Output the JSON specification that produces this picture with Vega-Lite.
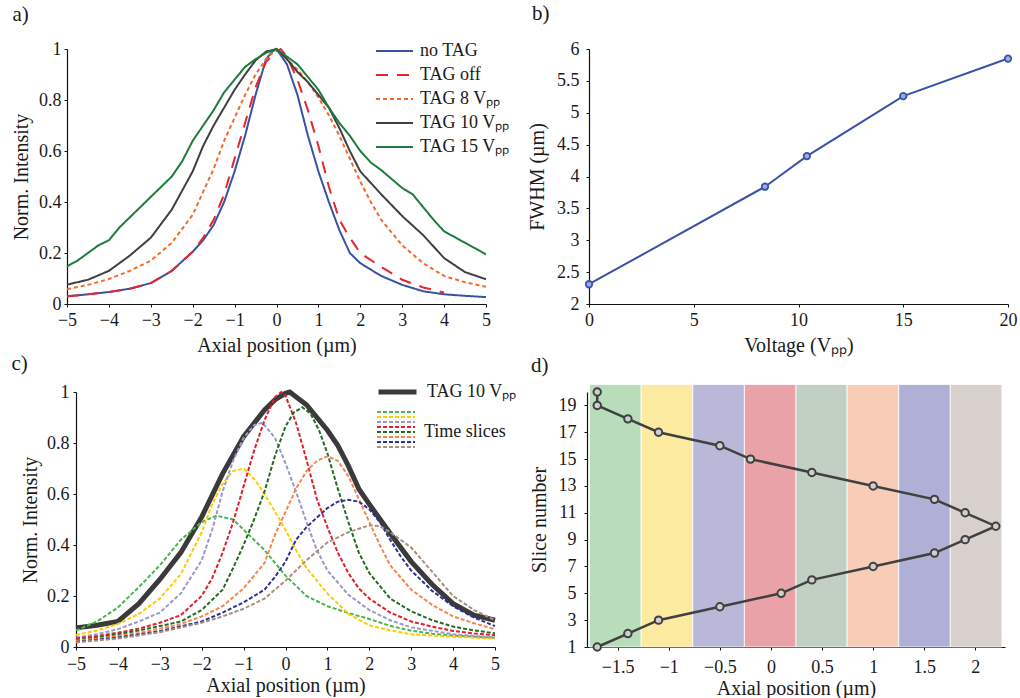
{
"$schema": "https://vega.github.io/schema/vega-lite/v6.json",
"background": "white",
"padding": {"left": 11, "top": 3, "right": 4, "bottom": 0},
"datasets": {
"a": [
{"s":"no TAG","x":-5,"y":0.03},{"s":"no TAG","x":-4.5,"y":0.038},{"s":"no TAG","x":-4,"y":0.047},{"s":"no TAG","x":-3.5,"y":0.06},{"s":"no TAG","x":-3,"y":0.082},{"s":"no TAG","x":-2.5,"y":0.13},{"s":"no TAG","x":-2,"y":0.205},{"s":"no TAG","x":-1.75,"y":0.25},{"s":"no TAG","x":-1.5,"y":0.31},{"s":"no TAG","x":-1.25,"y":0.4},{"s":"no TAG","x":-1,"y":0.52},{"s":"no TAG","x":-0.75,"y":0.66},{"s":"no TAG","x":-0.5,"y":0.82},{"s":"no TAG","x":-0.25,"y":0.96},{"s":"no TAG","x":-0.1,"y":0.99},{"s":"no TAG","x":0,"y":1},{"s":"no TAG","x":0.25,"y":0.94},{"s":"no TAG","x":0.5,"y":0.82},{"s":"no TAG","x":0.75,"y":0.66},{"s":"no TAG","x":1,"y":0.52},{"s":"no TAG","x":1.25,"y":0.4},{"s":"no TAG","x":1.5,"y":0.29},{"s":"no TAG","x":1.75,"y":0.2},{"s":"no TAG","x":2,"y":0.16},{"s":"no TAG","x":2.5,"y":0.11},{"s":"no TAG","x":3,"y":0.075},{"s":"no TAG","x":3.5,"y":0.05},{"s":"no TAG","x":4,"y":0.038},{"s":"no TAG","x":4.5,"y":0.032},{"s":"no TAG","x":5,"y":0.027},
{"s":"TAG off","x":-5,"y":0.03},{"s":"TAG off","x":-4.5,"y":0.038},{"s":"TAG off","x":-4,"y":0.047},{"s":"TAG off","x":-3.5,"y":0.06},{"s":"TAG off","x":-3,"y":0.082},{"s":"TAG off","x":-2.5,"y":0.13},{"s":"TAG off","x":-2,"y":0.205},{"s":"TAG off","x":-1.75,"y":0.26},{"s":"TAG off","x":-1.5,"y":0.33},{"s":"TAG off","x":-1.25,"y":0.43},{"s":"TAG off","x":-1,"y":0.57},{"s":"TAG off","x":-0.75,"y":0.71},{"s":"TAG off","x":-0.5,"y":0.85},{"s":"TAG off","x":-0.25,"y":0.95},{"s":"TAG off","x":0,"y":0.99},{"s":"TAG off","x":0.1,"y":1},{"s":"TAG off","x":0.25,"y":0.97},{"s":"TAG off","x":0.5,"y":0.88},{"s":"TAG off","x":0.75,"y":0.76},{"s":"TAG off","x":1,"y":0.62},{"s":"TAG off","x":1.25,"y":0.46},{"s":"TAG off","x":1.5,"y":0.33},{"s":"TAG off","x":1.75,"y":0.26},{"s":"TAG off","x":2,"y":0.2},{"s":"TAG off","x":2.5,"y":0.145},{"s":"TAG off","x":3,"y":0.095},{"s":"TAG off","x":3.5,"y":0.065},{"s":"TAG off","x":4,"y":0.045},
{"s":"TAG 8 Vₚₚ","x":-5,"y":0.058},{"s":"TAG 8 Vₚₚ","x":-4.5,"y":0.075},{"s":"TAG 8 Vₚₚ","x":-4,"y":0.098},{"s":"TAG 8 Vₚₚ","x":-3.5,"y":0.13},{"s":"TAG 8 Vₚₚ","x":-3,"y":0.17},{"s":"TAG 8 Vₚₚ","x":-2.5,"y":0.24},{"s":"TAG 8 Vₚₚ","x":-2,"y":0.35},{"s":"TAG 8 Vₚₚ","x":-1.75,"y":0.44},{"s":"TAG 8 Vₚₚ","x":-1.5,"y":0.53},{"s":"TAG 8 Vₚₚ","x":-1.25,"y":0.64},{"s":"TAG 8 Vₚₚ","x":-1,"y":0.73},{"s":"TAG 8 Vₚₚ","x":-0.75,"y":0.82},{"s":"TAG 8 Vₚₚ","x":-0.5,"y":0.9},{"s":"TAG 8 Vₚₚ","x":-0.25,"y":0.96},{"s":"TAG 8 Vₚₚ","x":0,"y":1},{"s":"TAG 8 Vₚₚ","x":0.25,"y":0.96},{"s":"TAG 8 Vₚₚ","x":0.5,"y":0.92},{"s":"TAG 8 Vₚₚ","x":0.75,"y":0.87},{"s":"TAG 8 Vₚₚ","x":1,"y":0.81},{"s":"TAG 8 Vₚₚ","x":1.25,"y":0.74},{"s":"TAG 8 Vₚₚ","x":1.5,"y":0.66},{"s":"TAG 8 Vₚₚ","x":1.75,"y":0.57},{"s":"TAG 8 Vₚₚ","x":2,"y":0.48},{"s":"TAG 8 Vₚₚ","x":2.25,"y":0.4},{"s":"TAG 8 Vₚₚ","x":2.5,"y":0.33},{"s":"TAG 8 Vₚₚ","x":3,"y":0.23},{"s":"TAG 8 Vₚₚ","x":3.5,"y":0.16},{"s":"TAG 8 Vₚₚ","x":4,"y":0.11},{"s":"TAG 8 Vₚₚ","x":4.5,"y":0.085},{"s":"TAG 8 Vₚₚ","x":5,"y":0.068},
{"s":"TAG 10 Vₚₚ","x":-5,"y":0.076},{"s":"TAG 10 Vₚₚ","x":-4.5,"y":0.095},{"s":"TAG 10 Vₚₚ","x":-4,"y":0.13},{"s":"TAG 10 Vₚₚ","x":-3.5,"y":0.19},{"s":"TAG 10 Vₚₚ","x":-3,"y":0.26},{"s":"TAG 10 Vₚₚ","x":-2.5,"y":0.37},{"s":"TAG 10 Vₚₚ","x":-2,"y":0.52},{"s":"TAG 10 Vₚₚ","x":-1.75,"y":0.62},{"s":"TAG 10 Vₚₚ","x":-1.5,"y":0.7},{"s":"TAG 10 Vₚₚ","x":-1.25,"y":0.77},{"s":"TAG 10 Vₚₚ","x":-1,"y":0.84},{"s":"TAG 10 Vₚₚ","x":-0.75,"y":0.9},{"s":"TAG 10 Vₚₚ","x":-0.5,"y":0.955},{"s":"TAG 10 Vₚₚ","x":-0.25,"y":0.99},{"s":"TAG 10 Vₚₚ","x":0,"y":1},{"s":"TAG 10 Vₚₚ","x":0.25,"y":0.96},{"s":"TAG 10 Vₚₚ","x":0.5,"y":0.91},{"s":"TAG 10 Vₚₚ","x":0.75,"y":0.87},{"s":"TAG 10 Vₚₚ","x":1,"y":0.82},{"s":"TAG 10 Vₚₚ","x":1.25,"y":0.77},{"s":"TAG 10 Vₚₚ","x":1.5,"y":0.69},{"s":"TAG 10 Vₚₚ","x":1.75,"y":0.6},{"s":"TAG 10 Vₚₚ","x":2,"y":0.52},{"s":"TAG 10 Vₚₚ","x":2.5,"y":0.43},{"s":"TAG 10 Vₚₚ","x":3,"y":0.345},{"s":"TAG 10 Vₚₚ","x":3.5,"y":0.27},{"s":"TAG 10 Vₚₚ","x":4,"y":0.18},{"s":"TAG 10 Vₚₚ","x":4.5,"y":0.125},{"s":"TAG 10 Vₚₚ","x":5,"y":0.097},
{"s":"TAG 15 Vₚₚ","x":-5,"y":0.148},{"s":"TAG 15 Vₚₚ","x":-4.75,"y":0.17},{"s":"TAG 15 Vₚₚ","x":-4.5,"y":0.2},{"s":"TAG 15 Vₚₚ","x":-4.25,"y":0.23},{"s":"TAG 15 Vₚₚ","x":-4,"y":0.25},{"s":"TAG 15 Vₚₚ","x":-3.75,"y":0.3},{"s":"TAG 15 Vₚₚ","x":-3.5,"y":0.34},{"s":"TAG 15 Vₚₚ","x":-3,"y":0.42},{"s":"TAG 15 Vₚₚ","x":-2.5,"y":0.5},{"s":"TAG 15 Vₚₚ","x":-2.25,"y":0.56},{"s":"TAG 15 Vₚₚ","x":-2,"y":0.64},{"s":"TAG 15 Vₚₚ","x":-1.75,"y":0.7},{"s":"TAG 15 Vₚₚ","x":-1.5,"y":0.76},{"s":"TAG 15 Vₚₚ","x":-1.25,"y":0.83},{"s":"TAG 15 Vₚₚ","x":-1,"y":0.88},{"s":"TAG 15 Vₚₚ","x":-0.75,"y":0.93},{"s":"TAG 15 Vₚₚ","x":-0.5,"y":0.96},{"s":"TAG 15 Vₚₚ","x":-0.25,"y":0.985},{"s":"TAG 15 Vₚₚ","x":0,"y":1},{"s":"TAG 15 Vₚₚ","x":0.25,"y":0.97},{"s":"TAG 15 Vₚₚ","x":0.5,"y":0.94},{"s":"TAG 15 Vₚₚ","x":0.75,"y":0.89},{"s":"TAG 15 Vₚₚ","x":1,"y":0.84},{"s":"TAG 15 Vₚₚ","x":1.25,"y":0.77},{"s":"TAG 15 Vₚₚ","x":1.5,"y":0.71},{"s":"TAG 15 Vₚₚ","x":1.75,"y":0.66},{"s":"TAG 15 Vₚₚ","x":2,"y":0.6},{"s":"TAG 15 Vₚₚ","x":2.25,"y":0.555},{"s":"TAG 15 Vₚₚ","x":2.5,"y":0.525},{"s":"TAG 15 Vₚₚ","x":2.75,"y":0.49},{"s":"TAG 15 Vₚₚ","x":3,"y":0.455},{"s":"TAG 15 Vₚₚ","x":3.25,"y":0.43},{"s":"TAG 15 Vₚₚ","x":3.5,"y":0.38},{"s":"TAG 15 Vₚₚ","x":3.75,"y":0.33},{"s":"TAG 15 Vₚₚ","x":4,"y":0.285},{"s":"TAG 15 Vₚₚ","x":4.5,"y":0.24},{"s":"TAG 15 Vₚₚ","x":5,"y":0.195}
],
"b": [{"v":0,"w":2.31},{"v":8.4,"w":3.84},{"v":10.4,"w":4.32},{"v":15,"w":5.26},{"v":20,"w":5.85}],
"cb": [{"x":-5,"y":0.075},{"x":-4.5,"y":0.085},{"x":-4,"y":0.1},{"x":-3.5,"y":0.17},{"x":-3,"y":0.265},{"x":-2.5,"y":0.37},{"x":-2,"y":0.51},{"x":-1.5,"y":0.68},{"x":-1,"y":0.825},{"x":-0.5,"y":0.93},{"x":-0.25,"y":0.97},{"x":0,"y":0.995},{"x":0.1,"y":1},{"x":0.5,"y":0.95},{"x":1,"y":0.85},{"x":1.25,"y":0.79},{"x":1.5,"y":0.71},{"x":1.75,"y":0.62},{"x":2,"y":0.56},{"x":2.5,"y":0.445},{"x":3,"y":0.335},{"x":3.5,"y":0.245},{"x":4,"y":0.17},{"x":4.5,"y":0.125},{"x":5,"y":0.105}],
"cs": [
{"k":"S1","x":-5,"y":0.065},{"k":"S1","x":-4.5,"y":0.1},{"k":"S1","x":-4,"y":0.155},{"k":"S1","x":-3.5,"y":0.235},{"k":"S1","x":-3,"y":0.32},{"k":"S1","x":-2.5,"y":0.42},{"k":"S1","x":-2,"y":0.49},{"k":"S1","x":-1.65,"y":0.515},{"k":"S1","x":-1.25,"y":0.5},{"k":"S1","x":-1,"y":0.46},{"k":"S1","x":-0.5,"y":0.38},{"k":"S1","x":0,"y":0.28},{"k":"S1","x":0.5,"y":0.2},{"k":"S1","x":1,"y":0.16},{"k":"S1","x":1.5,"y":0.133},{"k":"S1","x":2,"y":0.11},{"k":"S1","x":2.5,"y":0.083},{"k":"S1","x":3,"y":0.064},{"k":"S1","x":3.5,"y":0.052},{"k":"S1","x":4,"y":0.045},{"k":"S1","x":4.5,"y":0.04},{"k":"S1","x":5,"y":0.036},
{"k":"S2","x":-5,"y":0.047},{"k":"S2","x":-4.5,"y":0.065},{"k":"S2","x":-4,"y":0.09},{"k":"S2","x":-3.5,"y":0.13},{"k":"S2","x":-3,"y":0.19},{"k":"S2","x":-2.5,"y":0.285},{"k":"S2","x":-2,"y":0.45},{"k":"S2","x":-1.75,"y":0.56},{"k":"S2","x":-1.5,"y":0.64},{"k":"S2","x":-1.25,"y":0.69},{"k":"S2","x":-1,"y":0.7},{"k":"S2","x":-0.75,"y":0.66},{"k":"S2","x":-0.5,"y":0.6},{"k":"S2","x":-0.25,"y":0.53},{"k":"S2","x":0,"y":0.46},{"k":"S2","x":0.25,"y":0.38},{"k":"S2","x":0.5,"y":0.31},{"k":"S2","x":1,"y":0.21},{"k":"S2","x":1.5,"y":0.13},{"k":"S2","x":2,"y":0.085},{"k":"S2","x":2.5,"y":0.065},{"k":"S2","x":3,"y":0.05},{"k":"S2","x":4,"y":0.04},{"k":"S2","x":5,"y":0.033},
{"k":"S3","x":-5,"y":0.037},{"k":"S3","x":-4.5,"y":0.05},{"k":"S3","x":-4,"y":0.07},{"k":"S3","x":-3.5,"y":0.1},{"k":"S3","x":-3,"y":0.135},{"k":"S3","x":-2.5,"y":0.21},{"k":"S3","x":-2,"y":0.34},{"k":"S3","x":-1.75,"y":0.46},{"k":"S3","x":-1.5,"y":0.61},{"k":"S3","x":-1.25,"y":0.73},{"k":"S3","x":-1,"y":0.82},{"k":"S3","x":-0.75,"y":0.87},{"k":"S3","x":-0.55,"y":0.88},{"k":"S3","x":-0.25,"y":0.82},{"k":"S3","x":0,"y":0.72},{"k":"S3","x":0.25,"y":0.61},{"k":"S3","x":0.5,"y":0.49},{"k":"S3","x":0.75,"y":0.38},{"k":"S3","x":1,"y":0.3},{"k":"S3","x":1.5,"y":0.205},{"k":"S3","x":2,"y":0.145},{"k":"S3","x":2.5,"y":0.105},{"k":"S3","x":3,"y":0.077},{"k":"S3","x":4,"y":0.05},{"k":"S3","x":5,"y":0.037},
{"k":"S4","x":-5,"y":0.033},{"k":"S4","x":-4.5,"y":0.043},{"k":"S4","x":-4,"y":0.056},{"k":"S4","x":-3.5,"y":0.072},{"k":"S4","x":-3,"y":0.095},{"k":"S4","x":-2.5,"y":0.125},{"k":"S4","x":-2,"y":0.2},{"k":"S4","x":-1.75,"y":0.27},{"k":"S4","x":-1.5,"y":0.37},{"k":"S4","x":-1.25,"y":0.49},{"k":"S4","x":-1,"y":0.63},{"k":"S4","x":-0.75,"y":0.77},{"k":"S4","x":-0.5,"y":0.89},{"k":"S4","x":-0.25,"y":0.98},{"k":"S4","x":-0.1,"y":1},{"k":"S4","x":0,"y":0.985},{"k":"S4","x":0.25,"y":0.88},{"k":"S4","x":0.5,"y":0.735},{"k":"S4","x":0.75,"y":0.58},{"k":"S4","x":1,"y":0.47},{"k":"S4","x":1.25,"y":0.37},{"k":"S4","x":1.5,"y":0.29},{"k":"S4","x":1.75,"y":0.23},{"k":"S4","x":2,"y":0.19},{"k":"S4","x":2.5,"y":0.135},{"k":"S4","x":3,"y":0.1},{"k":"S4","x":3.5,"y":0.08},{"k":"S4","x":4,"y":0.063},{"k":"S4","x":4.5,"y":0.053},{"k":"S4","x":5,"y":0.046},
{"k":"S5","x":-5,"y":0.027},{"k":"S5","x":-4.5,"y":0.037},{"k":"S5","x":-4,"y":0.05},{"k":"S5","x":-3.5,"y":0.065},{"k":"S5","x":-3,"y":0.082},{"k":"S5","x":-2.5,"y":0.1},{"k":"S5","x":-2,"y":0.145},{"k":"S5","x":-1.5,"y":0.225},{"k":"S5","x":-1.25,"y":0.31},{"k":"S5","x":-1,"y":0.4},{"k":"S5","x":-0.75,"y":0.5},{"k":"S5","x":-0.5,"y":0.61},{"k":"S5","x":-0.25,"y":0.75},{"k":"S5","x":0,"y":0.865},{"k":"S5","x":0.2,"y":0.92},{"k":"S5","x":0.4,"y":0.94},{"k":"S5","x":0.6,"y":0.915},{"k":"S5","x":0.8,"y":0.85},{"k":"S5","x":1,"y":0.76},{"k":"S5","x":1.25,"y":0.62},{"k":"S5","x":1.5,"y":0.49},{"k":"S5","x":1.75,"y":0.37},{"k":"S5","x":2,"y":0.29},{"k":"S5","x":2.5,"y":0.19},{"k":"S5","x":3,"y":0.14},{"k":"S5","x":3.5,"y":0.105},{"k":"S5","x":4,"y":0.08},{"k":"S5","x":4.5,"y":0.065},{"k":"S5","x":5,"y":0.054},
{"k":"S6","x":-5,"y":0.025},{"k":"S6","x":-4.5,"y":0.033},{"k":"S6","x":-4,"y":0.043},{"k":"S6","x":-3.5,"y":0.055},{"k":"S6","x":-3,"y":0.072},{"k":"S6","x":-2.5,"y":0.09},{"k":"S6","x":-2,"y":0.12},{"k":"S6","x":-1.5,"y":0.16},{"k":"S6","x":-1,"y":0.23},{"k":"S6","x":-0.5,"y":0.33},{"k":"S6","x":-0.25,"y":0.44},{"k":"S6","x":0,"y":0.53},{"k":"S6","x":0.25,"y":0.62},{"k":"S6","x":0.5,"y":0.69},{"k":"S6","x":0.75,"y":0.73},{"k":"S6","x":1,"y":0.748},{"k":"S6","x":1.25,"y":0.73},{"k":"S6","x":1.5,"y":0.67},{"k":"S6","x":1.75,"y":0.58},{"k":"S6","x":2,"y":0.49},{"k":"S6","x":2.25,"y":0.4},{"k":"S6","x":2.5,"y":0.32},{"k":"S6","x":3,"y":0.225},{"k":"S6","x":3.5,"y":0.165},{"k":"S6","x":4,"y":0.12},{"k":"S6","x":4.5,"y":0.093},{"k":"S6","x":5,"y":0.07},
{"k":"S7","x":-5,"y":0.02},{"k":"S7","x":-4,"y":0.037},{"k":"S7","x":-3,"y":0.062},{"k":"S7","x":-2,"y":0.1},{"k":"S7","x":-1.5,"y":0.135},{"k":"S7","x":-1,"y":0.175},{"k":"S7","x":-0.5,"y":0.225},{"k":"S7","x":-0.25,"y":0.275},{"k":"S7","x":0,"y":0.335},{"k":"S7","x":0.25,"y":0.42},{"k":"S7","x":0.5,"y":0.47},{"k":"S7","x":1,"y":0.545},{"k":"S7","x":1.25,"y":0.57},{"k":"S7","x":1.5,"y":0.577},{"k":"S7","x":1.75,"y":0.57},{"k":"S7","x":2,"y":0.54},{"k":"S7","x":2.25,"y":0.49},{"k":"S7","x":2.5,"y":0.42},{"k":"S7","x":2.75,"y":0.355},{"k":"S7","x":3,"y":0.3},{"k":"S7","x":3.5,"y":0.22},{"k":"S7","x":4,"y":0.16},{"k":"S7","x":4.5,"y":0.115},{"k":"S7","x":5,"y":0.082},
{"k":"S8","x":-5,"y":0.018},{"k":"S8","x":-4,"y":0.033},{"k":"S8","x":-3,"y":0.058},{"k":"S8","x":-2,"y":0.095},{"k":"S8","x":-1.5,"y":0.12},{"k":"S8","x":-1,"y":0.15},{"k":"S8","x":-0.5,"y":0.19},{"k":"S8","x":0,"y":0.26},{"k":"S8","x":0.5,"y":0.34},{"k":"S8","x":1,"y":0.41},{"k":"S8","x":1.5,"y":0.45},{"k":"S8","x":2,"y":0.477},{"k":"S8","x":2.25,"y":0.474},{"k":"S8","x":2.5,"y":0.45},{"k":"S8","x":3,"y":0.39},{"k":"S8","x":3.5,"y":0.295},{"k":"S8","x":4,"y":0.2},{"k":"S8","x":4.5,"y":0.145},{"k":"S8","x":5,"y":0.105}
],
"d": [{"n":1,"x":-1.7},{"n":2,"x":-1.4},{"n":3,"x":-1.1},{"n":4,"x":-0.5},{"n":5,"x":0.1},{"n":6,"x":0.4},{"n":7,"x":1},{"n":8,"x":1.6},{"n":9,"x":1.9},{"n":10,"x":2.2},{"n":11,"x":1.9},{"n":12,"x":1.6},{"n":13,"x":1},{"n":14,"x":0.4},{"n":15,"x":-0.2},{"n":16,"x":-0.5},{"n":17,"x":-1.1},{"n":18,"x":-1.4},{"n":19,"x":-1.7},{"n":20,"x":-1.7}],
"bands": [{"band":"B1","lo":-1.775,"hi":-1.27},{"band":"B2","lo":-1.27,"hi":-0.765},{"band":"B3","lo":-0.765,"hi":-0.26},{"band":"B4","lo":-0.26,"hi":0.245},{"band":"B5","lo":0.245,"hi":0.745},{"band":"B6","lo":0.745,"hi":1.25},{"band":"B7","lo":1.25,"hi":1.755},{"band":"B8","lo":1.755,"hi":2.26}]
},
"spacing": -2,
"resolve": {"scale": {"color": "independent", "strokeDash": "independent", "opacity": "independent"}, "legend": {"color": "independent", "strokeDash": "independent", "opacity": "independent"}},
"vconcat": [
{
"spacing": 17,
"resolve": {"scale": {"color": "independent", "strokeDash": "independent"}, "legend": {"color": "independent", "strokeDash": "independent"}},
"hconcat": [
{
"width": 419, "height": 255,
"title": {"text": "a)", "anchor": "start", "frame": "bounds", "dx": 1, "offset": 14},
"data": {"name": "a"},
"mark": {"type": "line", "strokeWidth": 2},
"encoding": {
"x": {"field": "x", "type": "quantitative", "scale": {"domain": [-5, 5], "nice": false}, "axis": {"title": "Axial position (µm)", "values": [-5,-4,-3,-2,-1,0,1,2,3,4,5], "format": "~g", "tickSize": 3, "labelPadding": 4, "titlePadding": 6, "labelOverlap": false}},
"y": {"field": "y", "type": "quantitative", "scale": {"domain": [0, 1], "nice": false}, "axis": {"title": "Norm. Intensity", "values": [0,0.2,0.4,0.6,0.8,1], "format": "~g", "tickSize": 3, "labelPadding": 3, "titlePadding": 7, "labelOverlap": false}},
"color": {"field": "s", "type": "nominal", "scale": {"domain": ["no TAG","TAG off","TAG 8 Vₚₚ","TAG 10 Vₚₚ","TAG 15 Vₚₚ"], "range": ["#3953a4","#e8242d","#f26a2c","#404040","#1e7b3c"]},
 "legend": {"title": null, "orient": "none", "legendX": 308, "legendY": -10, "symbolType": "stroke", "symbolSize": 1369, "symbolStrokeWidth": 2, "clipHeight": 24, "rowPadding": 0, "labelOffset": 6, "padding": 0, "labelFontSize": 18, "labelFontWeight": "normal"}},
"strokeDash": {"field": "s", "type": "nominal", "scale": {"domain": ["no TAG","TAG off","TAG 8 Vₚₚ","TAG 10 Vₚₚ","TAG 15 Vₚₚ"], "range": [[1,0],[12,9],[4,3],[1,0],[1,0]]},
 "legend": {"title": null, "orient": "none", "legendX": 308, "legendY": -10, "symbolType": "stroke", "symbolSize": 1369, "symbolStrokeWidth": 2, "clipHeight": 24, "rowPadding": 0, "labelOffset": 6, "padding": 0, "labelFontSize": 18, "labelFontWeight": "normal"}}
}
},
{
"width": 419, "height": 255,
"title": {"text": "b)", "anchor": "start", "frame": "group", "dx": -57, "offset": 16},
"data": {"name": "b"},
"encoding": {
"x": {"field": "v", "type": "quantitative", "scale": {"domain": [0, 20], "nice": false}, "axis": {"title": "Voltage (Vₚₚ)", "values": [0,5,10,15,20], "tickSize": 3, "labelPadding": 4, "titlePadding": 6, "labelOverlap": false}},
"y": {"field": "w", "type": "quantitative", "scale": {"domain": [2, 6], "nice": false, "zero": false}, "axis": {"title": "FWHM (µm)", "values": [2,2.5,3,3.5,4,4.5,5,5.5,6], "format": "~g", "tickSize": 3, "labelPadding": 7, "titlePadding": 9, "labelOverlap": false}}
},
"layer": [
{"mark": {"type": "line", "color": "#3953a4", "strokeWidth": 2}},
{"mark": {"type": "circle", "fill": "#9aaee0", "stroke": "#3953a4", "strokeWidth": 1.8, "size": 42, "opacity": 1}}
]
}
]
},
{
"spacing": 12,
"resolve": {"scale": {"color": "independent", "opacity": "independent"}, "legend": {"color": "independent", "opacity": "independent"}},
"hconcat": [
{
"width": 428, "height": 255,
"title": {"text": "c)", "anchor": "start", "frame": "bounds", "dx": -9, "offset": 8},
"encoding": {
"x": {"field": "x", "type": "quantitative", "scale": {"domain": [-5, 5], "nice": false, "range": [9, 428]}, "axis": {"title": "Axial position (µm)", "values": [-5,-4,-3,-2,-1,0,1,2,3,4,5], "format": "~g", "tickSize": 3, "labelPadding": 5, "titlePadding": 2, "labelOverlap": false}},
"y": {"field": "y", "type": "quantitative", "scale": {"domain": [0, 1], "nice": false}, "axis": {"title": "Norm. Intensity", "values": [0,0.2,0.4,0.6,0.8,1], "format": "~g", "tickSize": 3, "labelPadding": 4, "titlePadding": 6, "offset": -9, "labelOverlap": false}}
},
"layer": [
{"data": {"name": "cb"}, "mark": {"type": "line", "strokeWidth": 5},
 "encoding": {"color": {"datum": "TAG 10 Vₚₚ", "type": "nominal", "scale": {"domain": ["TAG 10 Vₚₚ"], "range": ["#3a3a3a"]},
  "legend": {"title": null, "orient": "none", "legendX": 309, "legendY": -10, "symbolType": "stroke", "symbolSize": 1444, "symbolStrokeWidth": 5, "clipHeight": 20, "rowPadding": 0, "labelOffset": 8, "padding": 0, "labelFontSize": 18, "labelFontWeight": "normal"}}}},
{"data": {"name": "cs"}, "mark": {"type": "line", "strokeWidth": 2, "strokeDash": [4, 2]},
 "encoding": {
  "color": {"field": "k", "type": "nominal", "scale": {"domain": ["S1","S2","S3","S4","S5","S6","S7","S8"], "range": ["#4ab54a","#ffcc00","#9999cc","#e0202a","#236b23","#f7864e","#2e3192","#a8917f"]},
   "legend": {"title": null, "orient": "none", "legendX": 309, "legendY": 17.5, "symbolType": "stroke", "symbolSize": 1444, "symbolStrokeWidth": 2, "symbolDash": [4, 2], "clipHeight": 5, "rowPadding": 0, "labelOffset": 8, "padding": 0, "labelFontSize": 0, "labelExpr": "''"}},
  "opacity": {"datum": "Time slices", "type": "nominal", "scale": {"domain": ["Time slices"], "range": [1]},
   "legend": {"title": null, "orient": "none", "legendX": 309, "legendY": 30, "symbolType": "stroke", "symbolSize": 1444, "symbolStrokeWidth": 2, "symbolOpacity": 0, "symbolStrokeColor": "transparent", "clipHeight": 20, "rowPadding": 0, "labelOffset": 8, "padding": 0, "labelFontSize": 18, "labelFontWeight": "normal"}}
 }}
],
"resolve": {"scale": {"color": "independent"}}
},
{
"width": 418, "height": 255,
"title": {"text": "d)", "anchor": "start", "frame": "bounds", "dx": 2, "offset": 8},
"layer": [
{"data": {"name": "bands"}, "mark": {"type": "rect", "stroke": "#ffffff", "strokeWidth": 0.8},
 "encoding": {
 "x": {"field": "lo", "type": "quantitative", "scale": {"domain": [-1.8, 2.29], "nice": false, "zero": false}, "axis": {"title": "Axial position (µm)", "values": [-1.5,-1,-0.5,0,0.5,1,1.5,2], "format": "~g", "tickSize": 3, "labelPadding": 8, "titlePadding": 2, "labelOverlap": false}},
 "x2": {"field": "hi"},
 "y": {"datum": 1, "type": "quantitative", "scale": {"domain": [1, 20], "nice": false, "zero": false}, "axis": {"title": "Slice number", "values": [1,3,5,7,9,11,13,15,17,19], "tickSize": 3, "labelPadding": 8, "titlePadding": 9, "labelOverlap": false}},
 "y2": {"datum": 20.56},
 "color": {"field": "band", "type": "nominal", "scale": {"domain": ["B1","B2","B3","B4","B5","B6","B7","B8"], "range": ["#b9ddba","#fbeaa0","#bab8d8","#e9a3a8","#c1d0c3","#f9ccb8","#b0b0d6","#d8d0cc"]}, "legend": null}
 }},
{"data": {"name": "d"}, "mark": {"type": "line", "color": "#404040", "strokeWidth": 2.5},
 "encoding": {"x": {"field": "x", "type": "quantitative", "axis": {"title": "Axial position (µm)", "values": [-1.5,-1,-0.5,0,0.5,1,1.5,2], "format": "~g", "labelOverlap": false}}, "y": {"field": "n", "type": "quantitative", "axis": {"title": "Slice number", "values": [1,3,5,7,9,11,13,15,17,19], "labelOverlap": false}}, "order": {"field": "n", "type": "quantitative"}}},
{"data": {"name": "d"}, "mark": {"type": "circle", "fill": "#cfcfcf", "stroke": "#404040", "strokeWidth": 2, "size": 55, "opacity": 1},
 "encoding": {"x": {"field": "x", "type": "quantitative", "axis": {"title": "Axial position (µm)", "values": [-1.5,-1,-0.5,0,0.5,1,1.5,2], "format": "~g", "labelOverlap": false}}, "y": {"field": "n", "type": "quantitative", "axis": {"title": "Slice number", "values": [1,3,5,7,9,11,13,15,17,19], "labelOverlap": false}}}}
]
}
]
}
],
"config": {
"font": "Liberation Serif",
"view": {"stroke": null},
"axis": {"grid": false, "domainColor": "#111111", "tickColor": "#111111", "labelColor": "#1a1a1a", "titleColor": "#1a1a1a", "labelFont": "Liberation Serif", "titleFont": "Liberation Serif", "labelFontSize": 18, "titleFontSize": 20, "titleFontWeight": "normal", "labelFlush": false, "labelOverlap": false, "domainWidth": 1.2},
"legend": {"labelFont": "Liberation Serif", "labelColor": "#1a1a1a", "labelFontWeight": "normal"},
"title": {"font": "Liberation Serif", "fontSize": 21, "fontWeight": "normal", "color": "#1a1a1a"}
}
}
